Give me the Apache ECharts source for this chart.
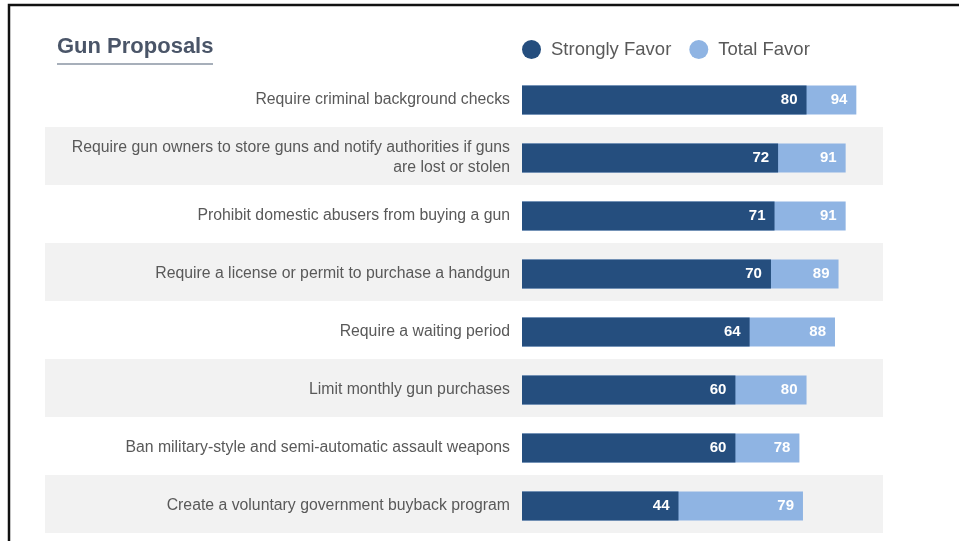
<!DOCTYPE html>
<html>
<head>
<meta charset="utf-8">
<script src="https://cdn.jsdelivr.net/npm/echarts@6/dist/echarts.min.js"></script>
<style>
  html, body { margin: 0; padding: 0; background: #ffffff; }
  #chart { width: 959px; height: 541px; }
</style>
</head>
<body>
<div id="chart"></div>
<script>
// Survey items, top to bottom
const proposals = [
  'Require criminal background checks',
  'Require gun owners to store guns and notify authorities if guns\nare lost or stolen',
  'Prohibit domestic abusers from buying a gun',
  'Require a license or permit to purchase a handgun',
  'Require a waiting period',
  'Limit monthly gun purchases',
  'Ban military-style and semi-automatic assault weapons',
  'Create a voluntary government buyback program'
];

// Percent who strongly favor / favor in total
const stronglyFavor = [80, 72, 71, 70, 64, 60, 60, 44];
const totalFavor = [94, 91, 91, 89, 88, 80, 78, 79];

const seriesNames = ['Strongly Favor', 'Total Favor'];
const colorStrong = '#254e7e';
const colorTotal = '#8fb4e3';

const chart = echarts.init(document.getElementById('chart'), null, { renderer: 'canvas' });

const FONT = 'Liberation Sans, Arial, sans-serif';

const valueLabel = {
  show: true,
  position: 'insideRight',
  distance: 9,
  color: '#ffffff',
  fontFamily: FONT,
  fontWeight: 'bold',
  fontSize: 15
};

chart.setOption({
  animation: false,
  backgroundColor: '#ffffff',
  title: {
    text: 'Gun Proposals',
    left: 52,
    top: 31,
    textStyle: { fontFamily: FONT, fontSize: 22, fontWeight: 'bold', color: '#4a5568' }
  },
  legend: {
    data: seriesNames,
    left: 517,
    top: 35,
    icon: 'circle',
    itemWidth: 19,
    itemHeight: 19,
    itemGap: 18,
    textStyle: { fontFamily: FONT, fontSize: 18.5, color: '#595959', padding: [0, 0, 0, 5] }
  },
  grid: [
    // full-width row stripes
    { left: 45, right: 76, top: 69, bottom: 8, outerBoundsMode: 'none', containLabel: false, z: 0 },
    // bars
    { left: 522, right: 76, top: 71, bottom: 6, outerBoundsMode: 'none', containLabel: false, z: 2 }
  ],
  xAxis: [
    { gridIndex: 0, type: 'value', min: 0, max: 1, show: false },
    { gridIndex: 1, type: 'value', min: 0, max: 101.5, show: false }
  ],
  yAxis: [
    {
      gridIndex: 0,
      type: 'category',
      data: proposals,
      inverse: true,
      z: 0,
      axisLine: { show: false },
      axisTick: { show: false },
      axisLabel: { show: false },
      splitArea: { show: true, areaStyle: { color: ['#ffffff', '#f2f2f2'] } }
    },
    {
      gridIndex: 1,
      type: 'category',
      data: proposals,
      inverse: true,
      z: 3,
      axisLine: { show: false },
      axisTick: { show: false },
      axisLabel: {
        margin: 12,
        align: 'right',
        fontFamily: FONT,
        fontSize: 15.8,
        lineHeight: 20,
        color: '#595959'
      }
    }
  ],
  series: [
    {
      name: seriesNames[1],
      type: 'bar',
      xAxisIndex: 1,
      yAxisIndex: 1,
      data: totalFavor,
      barWidth: 29,
      itemStyle: { color: colorTotal },
      label: valueLabel
    },
    {
      name: seriesNames[0],
      type: 'bar',
      xAxisIndex: 1,
      yAxisIndex: 1,
      data: stronglyFavor,
      barWidth: 29,
      barGap: '-100%',
      itemStyle: { color: colorStrong },
      label: valueLabel
    }
  ],
  graphic: [
    {
      type: 'line',
      shape: { x1: 57, y1: 64, x2: 213, y2: 64 },
      style: { stroke: '#8a94a3', lineWidth: 1.5 }
    },
    {
      type: 'rect',
      shape: { x: 9, y: 5, width: 1200, height: 1200 },
      style: { fill: 'none', stroke: '#111111', lineWidth: 2.5 },
      silent: true
    }
  ]
});
</script>
</body>
</html>
